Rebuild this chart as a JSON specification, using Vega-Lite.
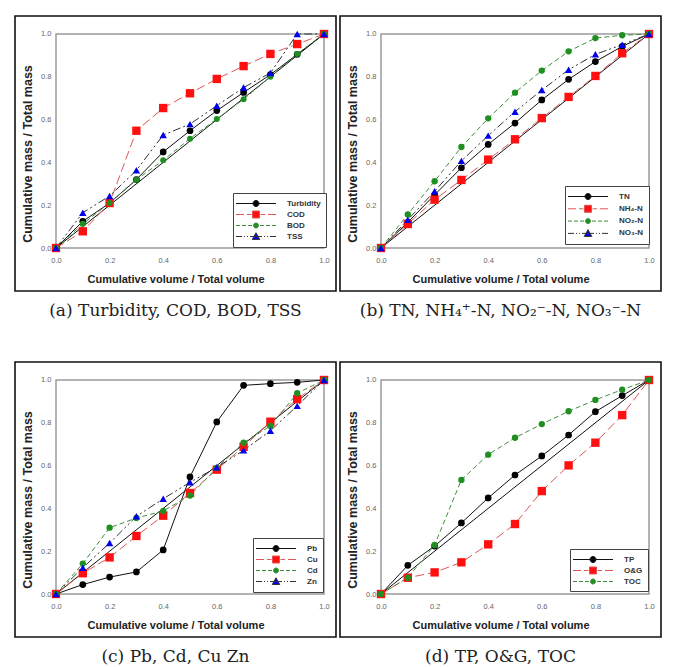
{
  "$schema": "https://vega.github.io/schema/vega-lite/v6.json",
  "padding": {"left": 14, "top": 15, "right": 0, "bottom": 0},
  "background": "white",
  "datasets": {
    "frame": [{"x": 0, "y": 0, "x2": 1, "y2": 1}],
    "diag": [{"x": 0, "y": 0}, {"x": 1, "y": 1}],
    "a": [
      {"s": "Turbidity", "x": 0, "y": 0}, {"s": "Turbidity", "x": 0.1, "y": 0.125}, {"s": "Turbidity", "x": 0.2, "y": 0.21}, {"s": "Turbidity", "x": 0.3, "y": 0.32}, {"s": "Turbidity", "x": 0.4, "y": 0.449}, {"s": "Turbidity", "x": 0.5, "y": 0.548}, {"s": "Turbidity", "x": 0.6, "y": 0.642}, {"s": "Turbidity", "x": 0.7, "y": 0.727}, {"s": "Turbidity", "x": 0.8, "y": 0.81}, {"s": "Turbidity", "x": 0.9, "y": 0.905}, {"s": "Turbidity", "x": 1, "y": 1},
      {"s": "COD", "x": 0, "y": 0}, {"s": "COD", "x": 0.1, "y": 0.078}, {"s": "COD", "x": 0.2, "y": 0.21}, {"s": "COD", "x": 0.3, "y": 0.548}, {"s": "COD", "x": 0.4, "y": 0.654}, {"s": "COD", "x": 0.5, "y": 0.723}, {"s": "COD", "x": 0.6, "y": 0.79}, {"s": "COD", "x": 0.7, "y": 0.85}, {"s": "COD", "x": 0.8, "y": 0.907}, {"s": "COD", "x": 0.9, "y": 0.953}, {"s": "COD", "x": 1, "y": 1},
      {"s": "BOD", "x": 0, "y": 0}, {"s": "BOD", "x": 0.1, "y": 0.113}, {"s": "BOD", "x": 0.2, "y": 0.21}, {"s": "BOD", "x": 0.3, "y": 0.319}, {"s": "BOD", "x": 0.4, "y": 0.41}, {"s": "BOD", "x": 0.5, "y": 0.511}, {"s": "BOD", "x": 0.6, "y": 0.603}, {"s": "BOD", "x": 0.7, "y": 0.695}, {"s": "BOD", "x": 0.8, "y": 0.8}, {"s": "BOD", "x": 0.9, "y": 0.907}, {"s": "BOD", "x": 1, "y": 1},
      {"s": "TSS", "x": 0, "y": 0}, {"s": "TSS", "x": 0.1, "y": 0.165}, {"s": "TSS", "x": 0.2, "y": 0.243}, {"s": "TSS", "x": 0.3, "y": 0.363}, {"s": "TSS", "x": 0.4, "y": 0.528}, {"s": "TSS", "x": 0.5, "y": 0.579}, {"s": "TSS", "x": 0.6, "y": 0.665}, {"s": "TSS", "x": 0.7, "y": 0.75}, {"s": "TSS", "x": 0.8, "y": 0.818}, {"s": "TSS", "x": 0.9, "y": 1.0}, {"s": "TSS", "x": 1, "y": 1}
    ],
    "b": [
      {"s": "TN", "x": 0, "y": 0}, {"s": "TN", "x": 0.1, "y": 0.12}, {"s": "TN", "x": 0.2, "y": 0.248}, {"s": "TN", "x": 0.3, "y": 0.375}, {"s": "TN", "x": 0.4, "y": 0.484}, {"s": "TN", "x": 0.5, "y": 0.584}, {"s": "TN", "x": 0.6, "y": 0.692}, {"s": "TN", "x": 0.7, "y": 0.788}, {"s": "TN", "x": 0.8, "y": 0.871}, {"s": "TN", "x": 0.9, "y": 0.942}, {"s": "TN", "x": 1, "y": 1},
      {"s": "NH₄-N", "x": 0, "y": 0}, {"s": "NH₄-N", "x": 0.1, "y": 0.112}, {"s": "NH₄-N", "x": 0.2, "y": 0.226}, {"s": "NH₄-N", "x": 0.3, "y": 0.318}, {"s": "NH₄-N", "x": 0.4, "y": 0.413}, {"s": "NH₄-N", "x": 0.5, "y": 0.508}, {"s": "NH₄-N", "x": 0.6, "y": 0.607}, {"s": "NH₄-N", "x": 0.7, "y": 0.706}, {"s": "NH₄-N", "x": 0.8, "y": 0.804}, {"s": "NH₄-N", "x": 0.9, "y": 0.91}, {"s": "NH₄-N", "x": 1, "y": 1},
      {"s": "NO₂-N", "x": 0, "y": 0}, {"s": "NO₂-N", "x": 0.1, "y": 0.157}, {"s": "NO₂-N", "x": 0.2, "y": 0.312}, {"s": "NO₂-N", "x": 0.3, "y": 0.472}, {"s": "NO₂-N", "x": 0.4, "y": 0.606}, {"s": "NO₂-N", "x": 0.5, "y": 0.726}, {"s": "NO₂-N", "x": 0.6, "y": 0.829}, {"s": "NO₂-N", "x": 0.7, "y": 0.919}, {"s": "NO₂-N", "x": 0.8, "y": 0.981}, {"s": "NO₂-N", "x": 0.9, "y": 0.994}, {"s": "NO₂-N", "x": 1, "y": 1},
      {"s": "NO₃-N", "x": 0, "y": 0}, {"s": "NO₃-N", "x": 0.1, "y": 0.132}, {"s": "NO₃-N", "x": 0.2, "y": 0.265}, {"s": "NO₃-N", "x": 0.3, "y": 0.407}, {"s": "NO₃-N", "x": 0.4, "y": 0.525}, {"s": "NO₃-N", "x": 0.5, "y": 0.637}, {"s": "NO₃-N", "x": 0.6, "y": 0.738}, {"s": "NO₃-N", "x": 0.7, "y": 0.833}, {"s": "NO₃-N", "x": 0.8, "y": 0.905}, {"s": "NO₃-N", "x": 0.9, "y": 0.95}, {"s": "NO₃-N", "x": 1, "y": 1}
    ],
    "c": [
      {"s": "Pb", "x": 0, "y": 0}, {"s": "Pb", "x": 0.1, "y": 0.044}, {"s": "Pb", "x": 0.2, "y": 0.079}, {"s": "Pb", "x": 0.3, "y": 0.103}, {"s": "Pb", "x": 0.4, "y": 0.206}, {"s": "Pb", "x": 0.5, "y": 0.547}, {"s": "Pb", "x": 0.6, "y": 0.804}, {"s": "Pb", "x": 0.7, "y": 0.975}, {"s": "Pb", "x": 0.8, "y": 0.983}, {"s": "Pb", "x": 0.9, "y": 0.989}, {"s": "Pb", "x": 1, "y": 1},
      {"s": "Cu", "x": 0, "y": 0}, {"s": "Cu", "x": 0.1, "y": 0.097}, {"s": "Cu", "x": 0.2, "y": 0.171}, {"s": "Cu", "x": 0.3, "y": 0.271}, {"s": "Cu", "x": 0.4, "y": 0.366}, {"s": "Cu", "x": 0.5, "y": 0.472}, {"s": "Cu", "x": 0.6, "y": 0.581}, {"s": "Cu", "x": 0.7, "y": 0.688}, {"s": "Cu", "x": 0.8, "y": 0.805}, {"s": "Cu", "x": 0.9, "y": 0.911}, {"s": "Cu", "x": 1, "y": 1},
      {"s": "Cd", "x": 0, "y": 0}, {"s": "Cd", "x": 0.1, "y": 0.142}, {"s": "Cd", "x": 0.2, "y": 0.31}, {"s": "Cd", "x": 0.3, "y": 0.355}, {"s": "Cd", "x": 0.4, "y": 0.388}, {"s": "Cd", "x": 0.5, "y": 0.46}, {"s": "Cd", "x": 0.6, "y": 0.589}, {"s": "Cd", "x": 0.7, "y": 0.707}, {"s": "Cd", "x": 0.8, "y": 0.785}, {"s": "Cd", "x": 0.9, "y": 0.938}, {"s": "Cd", "x": 1, "y": 1},
      {"s": "Zn", "x": 0, "y": 0}, {"s": "Zn", "x": 0.1, "y": 0.123}, {"s": "Zn", "x": 0.2, "y": 0.238}, {"s": "Zn", "x": 0.3, "y": 0.363}, {"s": "Zn", "x": 0.4, "y": 0.445}, {"s": "Zn", "x": 0.5, "y": 0.522}, {"s": "Zn", "x": 0.6, "y": 0.592}, {"s": "Zn", "x": 0.7, "y": 0.671}, {"s": "Zn", "x": 0.8, "y": 0.763}, {"s": "Zn", "x": 0.9, "y": 0.879}, {"s": "Zn", "x": 1, "y": 1}
    ],
    "d": [
      {"s": "TP", "x": 0, "y": 0}, {"s": "TP", "x": 0.1, "y": 0.134}, {"s": "TP", "x": 0.2, "y": 0.224}, {"s": "TP", "x": 0.3, "y": 0.332}, {"s": "TP", "x": 0.4, "y": 0.449}, {"s": "TP", "x": 0.5, "y": 0.556}, {"s": "TP", "x": 0.6, "y": 0.645}, {"s": "TP", "x": 0.7, "y": 0.743}, {"s": "TP", "x": 0.8, "y": 0.852}, {"s": "TP", "x": 0.9, "y": 0.927}, {"s": "TP", "x": 1, "y": 1},
      {"s": "O&G", "x": 0, "y": 0}, {"s": "O&G", "x": 0.1, "y": 0.076}, {"s": "O&G", "x": 0.2, "y": 0.101}, {"s": "O&G", "x": 0.3, "y": 0.148}, {"s": "O&G", "x": 0.4, "y": 0.232}, {"s": "O&G", "x": 0.5, "y": 0.327}, {"s": "O&G", "x": 0.6, "y": 0.481}, {"s": "O&G", "x": 0.7, "y": 0.601}, {"s": "O&G", "x": 0.8, "y": 0.707}, {"s": "O&G", "x": 0.9, "y": 0.836}, {"s": "O&G", "x": 1, "y": 1},
      {"s": "TOC", "x": 0, "y": 0}, {"s": "TOC", "x": 0.1, "y": 0.076}, {"s": "TOC", "x": 0.2, "y": 0.229}, {"s": "TOC", "x": 0.3, "y": 0.533}, {"s": "TOC", "x": 0.4, "y": 0.651}, {"s": "TOC", "x": 0.5, "y": 0.73}, {"s": "TOC", "x": 0.6, "y": 0.794}, {"s": "TOC", "x": 0.7, "y": 0.854}, {"s": "TOC", "x": 0.8, "y": 0.907}, {"s": "TOC", "x": 0.9, "y": 0.955}, {"s": "TOC", "x": 1, "y": 1}
    ]
  },
  "spacing": 41,
  "resolve": {"scale": {"fill": "independent", "stroke": "independent", "shape": "independent"}, "legend": {"fill": "independent", "stroke": "independent", "shape": "independent"}},
  "vconcat": [
    {
      "spacing": 2,
      "resolve": {"scale": {"fill": "independent", "stroke": "independent", "shape": "independent"}, "legend": {"fill": "independent", "stroke": "independent", "shape": "independent"}},
      "hconcat": [
        {
          "width": 321, "height": 275,
          "title": "(a) Turbidity, COD, BOD, TSS",
          "encoding": {
            "x": {"field": "x", "type": "quantitative", "scale": {"domain": [-0.153, 1.0448], "nice": false, "zero": false}, "axis": {"values": [0, 0.2, 0.4, 0.6, 0.8, 1], "format": ".1f", "offset": -43, "title": "Cumulative volume / Total volume"}},
            "y": {"field": "y", "type": "quantitative", "scale": {"domain": [-0.2009, 1.0841], "nice": false, "zero": false}, "axis": {"values": [0, 0.2, 0.4, 0.6, 0.8, 1], "format": ".1f", "offset": -41, "title": "Cumulative mass / Total mass"}}
          },
          "layer": [
            {"data": {"name": "frame"}, "mark": {"type": "rect", "fillOpacity": 0, "stroke": "#9a9a9a", "strokeWidth": 1.5}, "encoding": {"x2": {"field": "x2"}, "y2": {"field": "y2"}}},
            {"data": {"name": "diag"}, "mark": {"type": "line", "color": "#111", "strokeWidth": 1}},
            {"data": {"name": "a"}, "transform": [{"filter": {"field": "s", "equal": "Turbidity"}}], "mark": {"type": "line", "color": "#111111", "strokeWidth": 1}},
            {"data": {"name": "a"}, "transform": [{"filter": {"field": "s", "equal": "COD"}}], "mark": {"type": "line", "color": "#e05555", "strokeDash": [9, 4], "strokeWidth": 1}},
            {"data": {"name": "a"}, "transform": [{"filter": {"field": "s", "equal": "BOD"}}], "mark": {"type": "line", "color": "#3f8f3f", "strokeDash": [5, 3], "strokeWidth": 1}},
            {"data": {"name": "a"}, "transform": [{"filter": {"field": "s", "equal": "TSS"}}], "mark": {"type": "line", "color": "#333333", "strokeDash": [8, 3, 2, 3, 2, 3], "strokeWidth": 1}},
            {"data": {"name": "a"}, "transform": [{"filter": {"field": "s", "equal": "Turbidity"}}], "mark": {"type": "point", "shape": "circle", "filled": true, "color": "#000000", "size": 45, "opacity": 1}},
            {"data": {"name": "a"}, "transform": [{"filter": {"field": "s", "equal": "COD"}}], "mark": {"type": "point", "shape": "square", "filled": true, "color": "#ff1010", "size": 70, "opacity": 1}},
            {"data": {"name": "a"}, "transform": [{"filter": {"field": "s", "equal": "BOD"}}], "mark": {"type": "point", "shape": "circle", "filled": true, "color": "#1f8f1f", "size": 36, "opacity": 1}},
            {"data": {"name": "a"}, "transform": [{"filter": {"field": "s", "equal": "TSS"}}], "mark": {"type": "point", "shape": "triangle-up", "filled": true, "color": "#0000ee", "size": 55, "opacity": 1}},
            {"data": {"name": "a"}, "transform": [{"filter": "datum.x > 2"}], "mark": {"type": "point", "filled": true, "opacity": 1, "strokeWidth": 1},
             "encoding": {
               "fill": {"field": "s", "type": "nominal", "scale": {"domain": ["Turbidity", "COD", "BOD", "TSS"], "range": ["#000000", "#ff1010", "#1f8f1f", "#0000ee"]}, "legend": {"title": null, "orient": "none", "legendX": 218, "legendY": 177}},
               "stroke": {"field": "s", "type": "nominal", "scale": {"domain": ["Turbidity", "COD", "BOD", "TSS"], "range": ["#111111", "#e05555", "#3f8f3f", "#333333"]}, "legend": {"title": null, "orient": "none", "legendX": 218, "legendY": 177}},
               "shape": {"field": "s", "type": "nominal", "scale": {"domain": ["Turbidity", "COD", "BOD", "TSS"], "range": [
                 "M-1.5,0H6.5M3.1,0A0.6,0.6,0,1,1,1.9,0A0.6,0.6,0,1,1,3.1,0Z",
                 "M-1.5,0H0.1M0.7,0H1.6M3.4,0H4.3M4.9,0H6.5M1.8,-0.7H3.2V0.7H1.8Z",
                 "M-1.5,0H-0.7M-0.3,0H0.5M0.9,0H1.7M3.3,0H4.1M4.5,0H5.3M5.7,0H6.5M3,0A0.5,0.5,0,1,1,2,0A0.5,0.5,0,1,1,3,0Z",
                 "M-1.5,0H-0.3M0.1,0H0.3M0.7,0H0.9M1.3,0H3.7M4.1,0H4.3M4.7,0H4.9M5.3,0H6.5M2.5,-0.75L3.25,0.6L1.75,0.6Z"]}, "legend": {"title": null, "orient": "none", "legendX": 218, "legendY": 177}}}}
          ]
        },
        {
          "width": 321, "height": 275,
          "title": "(b) TN, NH₄⁺-N, NO₂⁻-N, NO₃⁻-N",
          "encoding": {
            "x": {"field": "x", "type": "quantitative", "scale": {"domain": [-0.153, 1.0448], "nice": false, "zero": false}, "axis": {"values": [0, 0.2, 0.4, 0.6, 0.8, 1], "format": ".1f", "offset": -43, "title": "Cumulative volume / Total volume"}},
            "y": {"field": "y", "type": "quantitative", "scale": {"domain": [-0.2009, 1.0841], "nice": false, "zero": false}, "axis": {"values": [0, 0.2, 0.4, 0.6, 0.8, 1], "format": ".1f", "offset": -41, "title": "Cumulative mass / Total mass"}}
          },
          "layer": [
            {"data": {"name": "frame"}, "mark": {"type": "rect", "fillOpacity": 0, "stroke": "#9a9a9a", "strokeWidth": 1.5}, "encoding": {"x2": {"field": "x2"}, "y2": {"field": "y2"}}},
            {"data": {"name": "diag"}, "mark": {"type": "line", "color": "#111", "strokeWidth": 1}},
            {"data": {"name": "b"}, "transform": [{"filter": {"field": "s", "equal": "TN"}}], "mark": {"type": "line", "color": "#111111", "strokeWidth": 1}},
            {"data": {"name": "b"}, "transform": [{"filter": {"field": "s", "equal": "NH₄-N"}}], "mark": {"type": "line", "color": "#e05555", "strokeDash": [9, 4], "strokeWidth": 1}},
            {"data": {"name": "b"}, "transform": [{"filter": {"field": "s", "equal": "NO₂-N"}}], "mark": {"type": "line", "color": "#3f8f3f", "strokeDash": [5, 3], "strokeWidth": 1}},
            {"data": {"name": "b"}, "transform": [{"filter": {"field": "s", "equal": "NO₃-N"}}], "mark": {"type": "line", "color": "#333333", "strokeDash": [8, 3, 2, 3, 2, 3], "strokeWidth": 1}},
            {"data": {"name": "b"}, "transform": [{"filter": {"field": "s", "equal": "TN"}}], "mark": {"type": "point", "shape": "circle", "filled": true, "color": "#000000", "size": 45, "opacity": 1}},
            {"data": {"name": "b"}, "transform": [{"filter": {"field": "s", "equal": "NH₄-N"}}], "mark": {"type": "point", "shape": "square", "filled": true, "color": "#ff1010", "size": 70, "opacity": 1}},
            {"data": {"name": "b"}, "transform": [{"filter": {"field": "s", "equal": "NO₂-N"}}], "mark": {"type": "point", "shape": "circle", "filled": true, "color": "#1f8f1f", "size": 40, "opacity": 1}},
            {"data": {"name": "b"}, "transform": [{"filter": {"field": "s", "equal": "NO₃-N"}}], "mark": {"type": "point", "shape": "triangle-up", "filled": true, "color": "#0000ee", "size": 55, "opacity": 1}},
            {"data": {"name": "b"}, "transform": [{"filter": "datum.x > 2"}], "mark": {"type": "point", "filled": true, "opacity": 1, "strokeWidth": 1},
             "encoding": {
               "fill": {"field": "s", "type": "nominal", "scale": {"domain": ["TN", "NH₄-N", "NO₂-N", "NO₃-N"], "range": ["#000000", "#ff1010", "#1f8f1f", "#0000ee"]}, "legend": {"title": null, "orient": "none", "legendX": 225, "legendY": 170, "rowPadding": 1.3}},
               "stroke": {"field": "s", "type": "nominal", "scale": {"domain": ["TN", "NH₄-N", "NO₂-N", "NO₃-N"], "range": ["#111111", "#e05555", "#3f8f3f", "#333333"]}, "legend": {"title": null, "orient": "none", "legendX": 225, "legendY": 170, "rowPadding": 1.3}},
               "shape": {"field": "s", "type": "nominal", "scale": {"domain": ["TN", "NH₄-N", "NO₂-N", "NO₃-N"], "range": [
                 "M-1.5,0H6.5M3.1,0A0.6,0.6,0,1,1,1.9,0A0.6,0.6,0,1,1,3.1,0Z",
                 "M-1.5,0H0.1M0.7,0H1.6M3.4,0H4.3M4.9,0H6.5M1.8,-0.7H3.2V0.7H1.8Z",
                 "M-1.5,0H-0.7M-0.3,0H0.5M0.9,0H1.7M3.3,0H4.1M4.5,0H5.3M5.7,0H6.5M3,0A0.5,0.5,0,1,1,2,0A0.5,0.5,0,1,1,3,0Z",
                 "M-1.5,0H-0.3M0.1,0H0.3M0.7,0H0.9M1.3,0H3.7M4.1,0H4.3M4.7,0H4.9M5.3,0H6.5M2.5,-0.75L3.25,0.6L1.75,0.6Z"]}, "legend": {"title": null, "orient": "none", "legendX": 225, "legendY": 170, "rowPadding": 1.3}}}}
          ]
        }
      ]
    },
    {
      "spacing": 2,
      "resolve": {"scale": {"fill": "independent", "stroke": "independent", "shape": "independent"}, "legend": {"fill": "independent", "stroke": "independent", "shape": "independent"}},
      "hconcat": [
        {
          "width": 321, "height": 275,
          "title": "(c) Pb, Cd, Cu Zn",
          "encoding": {
            "x": {"field": "x", "type": "quantitative", "scale": {"domain": [-0.153, 1.0448], "nice": false, "zero": false}, "axis": {"values": [0, 0.2, 0.4, 0.6, 0.8, 1], "format": ".1f", "offset": -43, "title": "Cumulative volume / Total volume"}},
            "y": {"field": "y", "type": "quantitative", "scale": {"domain": [-0.2009, 1.0841], "nice": false, "zero": false}, "axis": {"values": [0, 0.2, 0.4, 0.6, 0.8, 1], "format": ".1f", "offset": -41, "title": "Cumulative mass / Total mass"}}
          },
          "layer": [
            {"data": {"name": "frame"}, "mark": {"type": "rect", "fillOpacity": 0, "stroke": "#9a9a9a", "strokeWidth": 1.5}, "encoding": {"x2": {"field": "x2"}, "y2": {"field": "y2"}}},
            {"data": {"name": "diag"}, "mark": {"type": "line", "color": "#111", "strokeWidth": 1}},
            {"data": {"name": "c"}, "transform": [{"filter": {"field": "s", "equal": "Pb"}}], "mark": {"type": "line", "color": "#111111", "strokeWidth": 1}},
            {"data": {"name": "c"}, "transform": [{"filter": {"field": "s", "equal": "Cu"}}], "mark": {"type": "line", "color": "#e05555", "strokeDash": [9, 4], "strokeWidth": 1}},
            {"data": {"name": "c"}, "transform": [{"filter": {"field": "s", "equal": "Cd"}}], "mark": {"type": "line", "color": "#3f8f3f", "strokeDash": [5, 3], "strokeWidth": 1}},
            {"data": {"name": "c"}, "transform": [{"filter": {"field": "s", "equal": "Zn"}}], "mark": {"type": "line", "color": "#333333", "strokeDash": [8, 3, 2, 3, 2, 3], "strokeWidth": 1}},
            {"data": {"name": "c"}, "transform": [{"filter": {"field": "s", "equal": "Pb"}}], "mark": {"type": "point", "shape": "circle", "filled": true, "color": "#000000", "size": 45, "opacity": 1}},
            {"data": {"name": "c"}, "transform": [{"filter": {"field": "s", "equal": "Cu"}}], "mark": {"type": "point", "shape": "square", "filled": true, "color": "#ff1010", "size": 70, "opacity": 1}},
            {"data": {"name": "c"}, "transform": [{"filter": {"field": "s", "equal": "Cd"}}], "mark": {"type": "point", "shape": "circle", "filled": true, "color": "#1f8f1f", "size": 40, "opacity": 1}},
            {"data": {"name": "c"}, "transform": [{"filter": {"field": "s", "equal": "Zn"}}], "mark": {"type": "point", "shape": "triangle-up", "filled": true, "color": "#0000ee", "size": 55, "opacity": 1}},
            {"data": {"name": "c"}, "transform": [{"filter": "datum.x > 2"}], "mark": {"type": "point", "filled": true, "opacity": 1, "strokeWidth": 1},
             "encoding": {
               "fill": {"field": "s", "type": "nominal", "scale": {"domain": ["Pb", "Cu", "Cd", "Zn"], "range": ["#000000", "#ff1010", "#1f8f1f", "#0000ee"]}, "legend": {"title": null, "orient": "none", "legendX": 238, "legendY": 176}},
               "stroke": {"field": "s", "type": "nominal", "scale": {"domain": ["Pb", "Cu", "Cd", "Zn"], "range": ["#111111", "#e05555", "#3f8f3f", "#333333"]}, "legend": {"title": null, "orient": "none", "legendX": 238, "legendY": 176}},
               "shape": {"field": "s", "type": "nominal", "scale": {"domain": ["Pb", "Cu", "Cd", "Zn"], "range": [
                 "M-1.5,0H6.5M3.1,0A0.6,0.6,0,1,1,1.9,0A0.6,0.6,0,1,1,3.1,0Z",
                 "M-1.5,0H0.1M0.7,0H1.6M3.4,0H4.3M4.9,0H6.5M1.8,-0.7H3.2V0.7H1.8Z",
                 "M-1.5,0H-0.7M-0.3,0H0.5M0.9,0H1.7M3.3,0H4.1M4.5,0H5.3M5.7,0H6.5M3,0A0.5,0.5,0,1,1,2,0A0.5,0.5,0,1,1,3,0Z",
                 "M-1.5,0H-0.3M0.1,0H0.3M0.7,0H0.9M1.3,0H3.7M4.1,0H4.3M4.7,0H4.9M5.3,0H6.5M2.5,-0.75L3.25,0.6L1.75,0.6Z"]}, "legend": {"title": null, "orient": "none", "legendX": 238, "legendY": 176}}}}
          ]
        },
        {
          "width": 321, "height": 275,
          "title": "(d) TP, O&G, TOC",
          "encoding": {
            "x": {"field": "x", "type": "quantitative", "scale": {"domain": [-0.153, 1.0448], "nice": false, "zero": false}, "axis": {"values": [0, 0.2, 0.4, 0.6, 0.8, 1], "format": ".1f", "offset": -43, "title": "Cumulative volume / Total volume"}},
            "y": {"field": "y", "type": "quantitative", "scale": {"domain": [-0.2009, 1.0841], "nice": false, "zero": false}, "axis": {"values": [0, 0.2, 0.4, 0.6, 0.8, 1], "format": ".1f", "offset": -41, "title": "Cumulative mass / Total mass"}}
          },
          "layer": [
            {"data": {"name": "frame"}, "mark": {"type": "rect", "fillOpacity": 0, "stroke": "#9a9a9a", "strokeWidth": 1.5}, "encoding": {"x2": {"field": "x2"}, "y2": {"field": "y2"}}},
            {"data": {"name": "diag"}, "mark": {"type": "line", "color": "#111", "strokeWidth": 1}},
            {"data": {"name": "d"}, "transform": [{"filter": {"field": "s", "equal": "TP"}}], "mark": {"type": "line", "color": "#111111", "strokeWidth": 1}},
            {"data": {"name": "d"}, "transform": [{"filter": {"field": "s", "equal": "O&G"}}], "mark": {"type": "line", "color": "#e05555", "strokeDash": [9, 4], "strokeWidth": 1}},
            {"data": {"name": "d"}, "transform": [{"filter": {"field": "s", "equal": "TOC"}}], "mark": {"type": "line", "color": "#3f8f3f", "strokeDash": [5, 3], "strokeWidth": 1}},
            {"data": {"name": "d"}, "transform": [{"filter": {"field": "s", "equal": "TP"}}], "mark": {"type": "point", "shape": "circle", "filled": true, "color": "#000000", "size": 45, "opacity": 1}},
            {"data": {"name": "d"}, "transform": [{"filter": {"field": "s", "equal": "O&G"}}], "mark": {"type": "point", "shape": "square", "filled": true, "color": "#ff1010", "size": 70, "opacity": 1}},
            {"data": {"name": "d"}, "transform": [{"filter": {"field": "s", "equal": "TOC"}}], "mark": {"type": "point", "shape": "circle", "filled": true, "color": "#1f8f1f", "size": 40, "opacity": 1}},
            {"data": {"name": "d"}, "transform": [{"filter": "datum.x > 2"}], "mark": {"type": "point", "filled": true, "opacity": 1, "strokeWidth": 1},
             "encoding": {
               "fill": {"field": "s", "type": "nominal", "scale": {"domain": ["TP", "O&G", "TOC"], "range": ["#000000", "#ff1010", "#1f8f1f"]}, "legend": {"title": null, "orient": "none", "legendX": 230, "legendY": 187}},
               "stroke": {"field": "s", "type": "nominal", "scale": {"domain": ["TP", "O&G", "TOC"], "range": ["#111111", "#e05555", "#3f8f3f"]}, "legend": {"title": null, "orient": "none", "legendX": 230, "legendY": 187}},
               "shape": {"field": "s", "type": "nominal", "scale": {"domain": ["TP", "O&G", "TOC"], "range": [
                 "M-1.5,0H6.5M3.1,0A0.6,0.6,0,1,1,1.9,0A0.6,0.6,0,1,1,3.1,0Z",
                 "M-1.5,0H0.1M0.7,0H1.6M3.4,0H4.3M4.9,0H6.5M1.8,-0.7H3.2V0.7H1.8Z",
                 "M-1.5,0H-0.7M-0.3,0H0.5M0.9,0H1.7M3.3,0H4.1M4.5,0H5.3M5.7,0H6.5M3,0A0.5,0.5,0,1,1,2,0A0.5,0.5,0,1,1,3,0Z"]}, "legend": {"title": null, "orient": "none", "legendX": 230, "legendY": 187}}}}
          ]
        }
      ]
    }
  ],
  "config": {
    "view": {"stroke": "#111111", "strokeWidth": 1.6},
    "axis": {"grid": false, "domain": false, "ticks": false, "labelFont": "Liberation Sans", "labelFontSize": 7.5, "labelColor": "#666666", "labelFlush": false, "titleFont": "Liberation Sans", "titleFontWeight": "bold", "titleColor": "#222222"},
    "axisX": {"labelPadding": 8, "titlePadding": 10, "titleFontSize": 11},
    "axisY": {"labelPadding": 5, "titlePadding": 6, "titleFontSize": 12.5},
    "legend": {"labelFont": "Liberation Sans", "labelFontSize": 8, "labelFontWeight": "bold", "labelColor": "#333333", "symbolSize": 100, "symbolStrokeWidth": 1, "symbolOpacity": 1, "labelOffset": 38, "padding": 5, "rowPadding": 0, "fillColor": "white", "strokeColor": "#444444"},
    "title": {"orient": "bottom", "anchor": "middle", "font": "DejaVu Serif", "fontSize": 17, "fontWeight": "normal", "color": "#222222", "offset": 12}
  }
}
